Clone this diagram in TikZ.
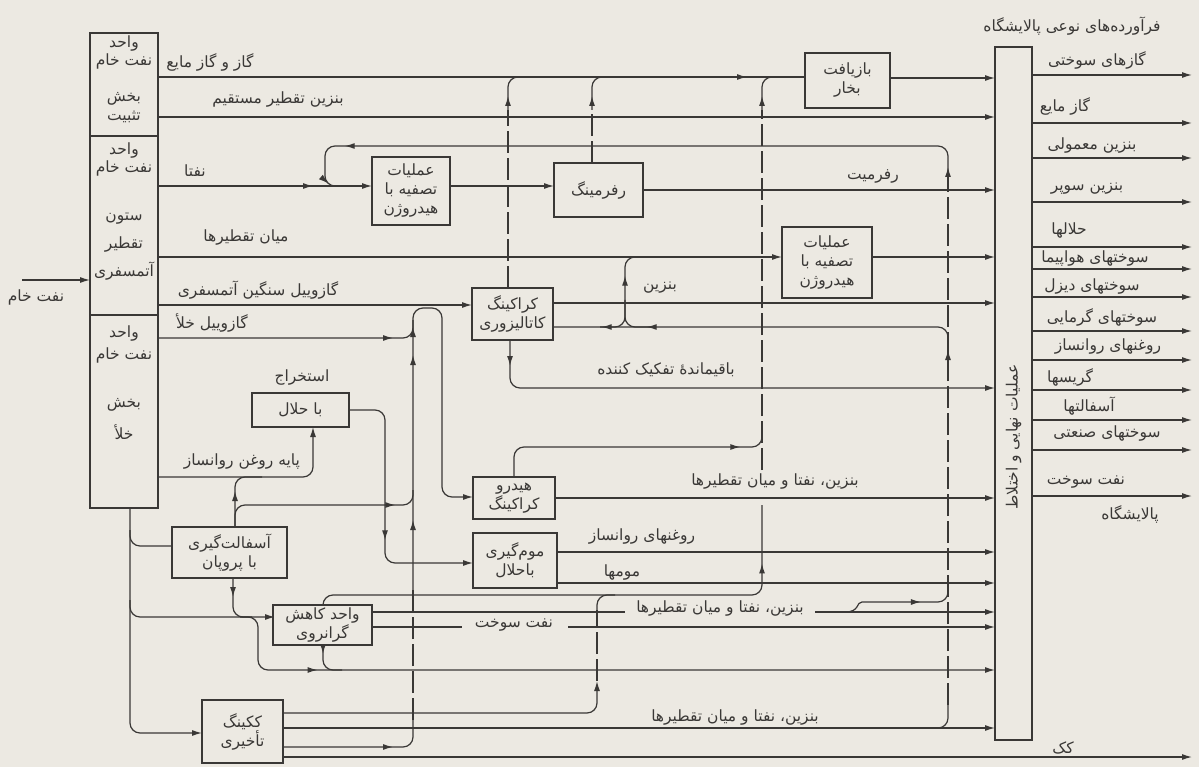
\documentclass[tikz,border=0pt]{standalone}
\usepackage{fontspec}
\usetikzlibrary{arrows.meta,decorations.markings}
\newfontfamily\arabicfont[Script=Arabic]{DejaVu Sans}
\TeXXeTstate=1
\newcommand\fa[1]{\beginR #1\endR}
\definecolor{bg}{RGB}{236,233,226}
\definecolor{ink}{RGB}{58,56,54}
\begin{document}
\begin{tikzpicture}[x=1pt,y={(0pt,-1pt)},color=ink,
  >={Latex[length=10pt,width=6pt]},
  every node/.style={font=\arabicfont\fontsize{15.5}{19}\selectfont, text=ink, inner sep=0pt},
  box/.style={draw=ink, line width=1.3pt, fill=bg, align=center},
  flow/.style={draw=ink, line width=1.2pt, rounded corners=10pt},
  am/.style={postaction={decorate,decoration={markings,mark=at position #1 with {\arrow{>}}}}},
  dsh/.style={dash pattern=on 22pt off 5pt},
  lab/.style={fill=bg, inner sep=1.5pt}
]
\fill[bg] (0,0) rectangle (1199,767);
\useasboundingbox (0,0) rectangle (1199,767);

% ---------- flows ----------
% crude
\coordinate (crude) at (22,280);
\draw[flow,->] (crude) -- (90,280);
% top gas line
\draw[flow, am=589pt] (158,77) -- (805,77);
\draw[flow,->] (890,78) -- (995,78);
\draw[flow,->] (158,117) -- (995,117);
% naphtha
\draw[flow, am=155pt, ->] (158,186) -- (372,186);
\draw[flow,->] (450,186) -- (554,186);
\draw[flow,->] (643,190) -- (995,190);
% recycle to naphtha
\draw[flow, am=8pt, am=628pt, am=682pt] (948,175) -- (948,146) -- (325,146) -- (325,186) -- (345,186);
% middle distillates
\draw[flow,->] (158,257) -- (782,257);
\draw[flow,->] (872,257) -- (995,257);
\draw[flow, am=72pt] (600,327) -- (625,327) -- (625,257) -- (650,257);
\draw[flow] (650,327) -- (625,327) -- (625,300);
% atm gas oil
\draw[flow,->] (158,305) -- (472,305);
\draw[flow,->] (553,303) -- (995,303);
\draw[flow, am=315pt, am=360pt] (948,345) -- (948,327) -- (553,327);
\draw[flow, am=26pt, ->] (510,340) -- (510,388) -- (995,388);
% vacuum gas oil
\draw[flow, am=235pt] (158,338) -- (413,338) -- (413,320);
% riser 413 and arch
\draw[flow, am=110pt] (283,747) -- (413,747) -- (413,720);
\draw[flow, dsh] (413,720) -- (413,590);
\draw[flow, am=70pt, am=235pt, am=263pt, ->] (413,590) -- (413,308) -- (442,308) -- (442,497) -- (473,497);
% asphalt top
\draw[flow, am=180pt] (235,529) -- (235,505) -- (413,505) -- (413,490);
\draw[flow, am=38pt] (235,529) -- (235,477) -- (262,477);
% lube base
\draw[flow,->] (158,477) -- (313,477) -- (313,427);
% extraction out to dewaxing
\draw[flow, am=162pt, ->] (349,410) -- (385,410) -- (385,563) -- (473,563);
\draw[flow,->] (557,552) -- (995,552);
\draw[flow,->] (557,583) -- (995,583);
% hydrocracker
\draw[flow,->] (555,498) -- (995,498);
\draw[flow, am=252pt] (514,477) -- (514,447) -- (762,447) -- (762,435);
% risers to top gas line
\draw[flow, dsh] (762,470) -- (762,110);
\draw[flow, am=14pt] (762,110) -- (762,77) -- (785,77);
\draw[flow, dsh] (508,288) -- (508,110);
\draw[flow, am=14pt] (508,110) -- (508,77) -- (530,77);
\draw[flow, dsh] (592,163) -- (592,110);
\draw[flow, am=14pt] (592,110) -- (592,77) -- (615,77);
% visbreaker top
\draw[flow, am=472pt] (323,605) -- (323,595) -- (762,595) -- (762,505);
% coking top
\draw[flow,->] (283,713) -- (597,713) -- (597,681);
\draw[flow, dsh] (597,681) -- (597,610);
\draw[flow] (597,610) -- (597,595) -- (615,595);
% coking distillates
\draw[flow,->] (283,728) -- (995,728);
\draw[flow] (925,728) -- (948,728) -- (948,705);
\draw[flow, dsh, am=355pt] (948,705) -- (948,175);
% coke
\draw[flow,->] (283,757) -- (1192,757);
% feed column
\draw[flow,->] (130,508) -- (130,733) -- (202,733);
\draw[flow] (130,530) -- (130,546) -- (172,546);
\draw[flow,->] (130,600) -- (130,617) -- (275,617);
% asphalt bottom
\draw[flow, am=19pt] (233,578) -- (233,617) -- (252,617);
\draw[flow, am=122pt, ->] (240,617) -- (258,617) -- (258,670) -- (995,670);
\draw[flow, am=9pt] (323,645) -- (323,670) -- (342,670);
% visbreaker distillates
\draw[flow] (372,612) -- (625,612);
\draw[flow,->] (815,612) -- (995,612);
\draw[flow, am=80pt] (845,612) .. controls (860,612) and (856,602) .. (872,602) -- (948,602) -- (948,585);
\draw[flow] (372,627) -- (462,627);
\draw[flow,->] (568,627) -- (995,627);
% products
\foreach \yy in {75,123,158,202,247,269,297,331,360,390,420,450,496}
  \draw[flow,->] (1032,\yy) -- (1192,\yy);

% ---------- boxes ----------
\node[box, minimum width=68pt, minimum height=103pt] (c1) at (124,84.5) {};
\node[box, minimum width=68pt, minimum height=179pt] (c2) at (124,225.5) {};
\node[box, minimum width=68pt, minimum height=193pt] (c3) at (124,411.5) {};
\node at (124,44) {\fa{واحد}};
\node at (124,61) {\fa{نفت خام}};
\node at (124,99) {\fa{بخش}};
\node at (124,117) {\fa{تثبیت}};
\node at (124,151) {\fa{واحد}};
\node at (124,168) {\fa{نفت خام}};
\node at (124,219) {\fa{ستون}};
\node at (124,245) {\fa{تقطیر}};
\node at (124,271) {\fa{آتمسفری}};
\node at (124,334) {\fa{واحد}};
\node at (124,355) {\fa{نفت خام}};
\node at (124,405) {\fa{بخش}};
\node at (124,432) {\fa{خلأ}};

\node[box, minimum width=78pt, minimum height=68pt] (hdt1) at (411,191) {\fa{عملیات}\\\fa{تصفیه با}\\\fa{هیدروژن}};
\node[box, minimum width=89pt, minimum height=54pt] (ref) at (598.5,190) {\fa{رفرمینگ}};
\node[box, minimum width=85pt, minimum height=55pt] (steam) at (847.5,80.5) {\fa{بازیافت}\\\fa{بخار}};
\node[box, minimum width=90pt, minimum height=71pt] (hdt2) at (827,262.5) {\fa{عملیات}\\\fa{تصفیه با}\\\fa{هیدروژن}};
\node[box, minimum width=81pt, minimum height=52pt] (cat) at (512.5,314) {\fa{کراکینگ}\\\fa{کاتالیزوری}};
\node[box, minimum width=97pt, minimum height=34pt] (ext) at (300.5,410) {\fa{با حلال}};
\node[box, minimum width=82pt, minimum height=42pt] (hcr) at (514,498) {\fa{هیدرو}\\\fa{کراکینگ}};
\node[box, minimum width=84pt, minimum height=55pt] (dew) at (515,560.5) {\fa{موم‌گیری}\\\fa{باحلال}};
\node[box, minimum width=115pt, minimum height=51pt] (asp) at (229.5,552.5) {\fa{آسفالت‌گیری}\\\fa{با پروپان}};
\node[box, minimum width=99pt, minimum height=40pt] (vis) at (322.5,625) {\fa{واحد کاهش}\\\fa{گرانروی}};
\node[box, minimum width=81pt, minimum height=63pt] (cok) at (242.5,731.5) {\fa{ککینگ}\\\fa{تأخیری}};
\node[box, minimum width=37pt, minimum height=693pt] (fin) at (1013.5,393.5) {};
\node[rotate=90] at (1013.5,437) {\fa{عملیات نهایی و اختلاط}};

% ---------- labels ----------
\node at (36,297) {\fa{نفت خام}};
\node at (210,62) {\fa{گاز و گاز مایع}};
\node at (278,100) {\fa{بنزین تقطیر مستقیم}};
\node at (195,171) {\fa{نفتا}};
\node at (246,238) {\fa{میان تقطیرها}};
\node at (258,290) {\fa{گازوییل سنگین آتمسفری}};
\node at (212,323) {\fa{گازوییل خلأ}};
\node at (873,176) {\fa{رفرمیت}};
\node at (660,288) {\fa{بنزین}};
\node at (666,370) {\fa{باقیماندهٔ تفکیک کننده}};
\node at (302,378) {\fa{استخراج}};
\node at (242,462) {\fa{پایه روغن روانساز}};
\node[lab] at (775,482) {\fa{بنزین، نفتا و میان تقطیرها}};
\node at (642,537) {\fa{روغنهای روانساز}};
\node at (622,572) {\fa{مومها}};
\node[lab] at (720,608) {\fa{بنزین، نفتا و میان تقطیرها}};
\node at (514,625) {\fa{نفت سوخت}};
\node at (735,717) {\fa{بنزین، نفتا و میان تقطیرها}};
\node at (1063,748) {\fa{کک}};

\node at (1072,26) {\fa{فرآورده‌های نوعی پالایشگاه}};
\node at (1097,60) {\fa{گازهای سوختی}};
\node at (1065,106) {\fa{گاز مایع}};
\node at (1092,146) {\fa{بنزین معمولی}};
\node at (1087,189) {\fa{بنزین سوپر}};
\node at (1069,231) {\fa{حلالها}};
\node at (1095,259) {\fa{سوختهای هواپیما}};
\node at (1092,287) {\fa{سوختهای دیزل}};
\node at (1102,317) {\fa{سوختهای گرمایی}};
\node at (1108,347) {\fa{روغنهای روانساز}};
\node at (1070,377) {\fa{گریسها}};
\node at (1089,406) {\fa{آسفالتها}};
\node at (1107,434) {\fa{سوختهای صنعتی}};
\node at (1086,482) {\fa{نفت سوخت}};
\node at (1130,514) {\fa{پالایشگاه}};
\end{tikzpicture}
\end{document}
